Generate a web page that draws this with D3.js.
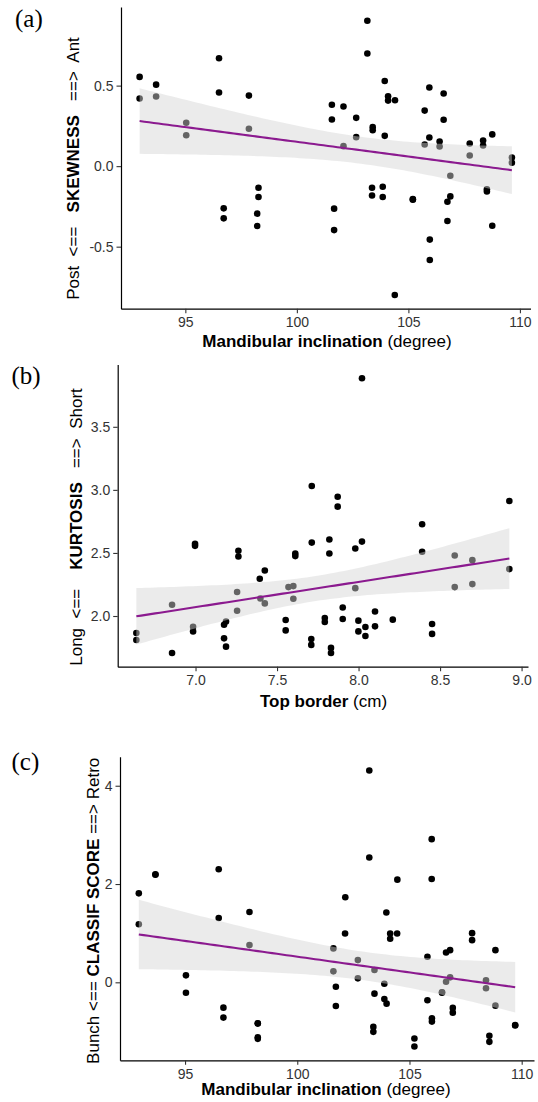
<!DOCTYPE html>
<html><head><meta charset="utf-8">
<script src="https://cdn.jsdelivr.net/npm/d3@7"></script>
<style>
body{margin:0;background:#fff}
svg{display:block}
</style>
</head><body>
<svg id="chart" width="538" height="1102"></svg>
<script>
// ---------- data ----------
// (a) Mandibular inclination vs SKEWNESS
const skewX = [92.95,92.95,93.69,93.69,95.04,95.04,96.51,96.51,97.85,97.85,
  103.16,103.16,101.57,101.57,102.09,102.09,102.66,102.66,103.4,103.4,
  103.94,103.94,104.09,104.09,104.40,105.94,105.73,105.73,105.94,106.58,
  106.58,106.4,106.4,106.88,107.75,107.75,108.35,108.35,108.76,109.64,
  109.64,96.72,96.72,98.28,98.28,98.22,98.22,101.67,101.67,103.37,
  103.37,103.85,103.85,105.2,106.88,106.75,106.75,105.96,105.96,104.39,
  108.52,108.52,108.76,105.2];
const skewY = [0.554,0.42,0.506,0.432,0.269,0.192,0.67,0.457,0.438,0.232,
  0.903,0.699,0.381,0.29,0.37,0.124,0.30,0.18,0.242,0.223,
  0.529,0.188,0.434,0.407,0.409,0.488,0.345,0.134,0.178,0.451,
  0.288,0.153,0.122,-0.06,0.141,0.066,0.159,0.128,0.197,0.054,
  0.021,-0.262,-0.324,-0.134,-0.192,-0.295,-0.372,-0.264,-0.397,-0.134,
  -0.182,-0.128,-0.192,-0.208,-0.188,-0.221,-0.341,-0.456,-0.583,-0.80,
  -0.144,-0.157,-0.37,-0.205];

// (b) Top border vs KURTOSIS
const kurtX = [8.021,7.713,7.872,7.872,8.925,8.39,7.713,7.821,7.821,8.021,
  7.98,7.612,7.612,8.39,8.59,8.698,8.925,8.59,8.698,7.98,
  7.425,7.394,7.57,7.60,7.60,7.425,7.903,7.903,8.101,8.101,
  8.21,7.999,7.999,8.042,8.042,7.793,7.793,7.553,7.553,7.71,
  7.71,7.831,7.831,8.451,8.451,6.637,6.637,6.856,6.856,6.997,
  6.997,6.985,6.985,7.263,7.263,7.255,7.255,7.175,7.187,7.175,
  7.187,7.398];
const kurtY = [3.885,3.031,2.946,2.867,2.912,2.728,2.582,2.606,2.495,2.59,
  2.535,2.495,2.475,2.509,2.48,2.443,2.372,2.229,2.253,2.221,
  2.361,2.295,2.229,2.237,2.137,2.1,2.068,1.976,2.036,1.918,
  1.971,1.963,1.878,1.913,1.842,1.984,1.953,1.968,1.886,1.818,
  1.771,1.747,1.707,1.937,1.858,1.865,1.81,2.089,1.707,2.572,
  2.556,1.915,1.878,2.517,2.472,2.19,2.042,1.931,1.957,1.823,
  1.757,2.139];

// (c) Mandibular inclination vs CLASSIF SCORE
const classX = [92.94,92.94,93.68,96.5,96.5,97.87,97.87,95.04,95.04,96.71,
  96.71,98.24,98.24,98.24,103.21,105.99,103.21,104.46,105.99,102.14,
  103.97,102.13,104.14,104.14,104.45,107.79,107.79,108.83,106.81,106.63,
  105.8,101.61,101.61,102.7,102.7,103.44,103.88,101.72,101.72,103.44,
  103.88,103.98,103.39,103.39,105.22,105.22,105.8,106.0,106.0,106.45,
  106.63,106.81,106.93,106.93,108.41,108.41,108.83,108.56,108.56,109.71,
  93.68,109.71,106.45,98.24];
const classY = [1.81,1.183,2.197,2.30,1.31,1.43,0.757,0.142,-0.211,-0.515,
  -0.718,-0.832,-1.12,-1.15,4.31,2.913,2.541,2.089,2.101,1.73,
  1.42,0.994,0.994,0.885,0.994,1.0,0.858,0.655,0.655,0.608,
  0.519,0.69,0.223,0.452,0.081,0.25,-0.028,-0.089,-0.481,-0.231,
  -0.339,-0.434,-0.907,-1.008,-1.144,-1.306,-0.365,-0.73,-0.799,-0.203,
  0.012,0.101,-0.521,-0.617,0.041,-0.122,-0.475,-1.089,-1.211,-0.88,
  2.19,-0.87,-0.21,-0.84];

// tick values
const skewXTicks = [95,100,105,110];
const skewYTicks = [-0.5,0,0.5];
const kurtXTicks = [7.0,7.5,8.0,8.5,9.0];
const kurtYTicks = [2.0,2.5,3.0,3.5];
const classXTicks = [95,100,105,110];
const classYTicks = [0,2,4];

// ---------- helpers ----------
const SANS = '"Liberation Sans",Arial,Helvetica,sans-serif';
const SERIF = '"Liberation Serif","Times New Roman",Times,serif';

function tQuant(df){
  const z = 1.959964;
  return z + (z**3 + z)/(4*df) + (5*z**5 + 16*z**3 + 3*z)/(96*df*df);
}
function lmFit(xs, ys, nGrid){
  const n = xs.length;
  const mx = d3.mean(xs), my = d3.mean(ys);
  let sxx=0, sxy=0;
  for(let i=0;i<n;i++){ sxx += (xs[i]-mx)**2; sxy += (xs[i]-mx)*(ys[i]-my); }
  const b = sxy/sxx, a = my - b*mx;
  let sse = 0;
  for(let i=0;i<n;i++){ sse += (ys[i]-a-b*xs[i])**2; }
  const s = Math.sqrt(sse/(n-2)), t = tQuant(n-2);
  const [x0,x1] = d3.extent(xs);
  return d3.range(nGrid).map(i=>{
    const x = x0 + (x1-x0)*i/(nGrid-1);
    const yh = a + b*x;
    const se = s*Math.sqrt(1/n + (x-mx)**2/sxx);
    return {x, y:yh, lo:yh - t*se, hi:yh + t*se};
  });
}
function expand(ext){ const r = ext[1]-ext[0]; return [ext[0]-0.05*r, ext[1]+0.05*r]; }

const svg = d3.select("#chart");
const fmt1 = d => d.toFixed(1);
const fmt0 = d => String(d);

const panels = [
  {label:"(a)", lab:{x:15, y:26.5}, xs:skewX, ys:skewY, xTicks:skewXTicks, yTicks:skewYTicks,
   xFmt:fmt0, yFmt:fmt1, rect:{l:121, r:530.5, t:7, b:308.7},
   xTitle:{bold:"Mandibular inclination", plain:" (degree)", cx:327, y:346.7},
   yTitle:{pre:"Post  <==   ", bold:"SKEWNESS", post:"   ==>  Ant", x:78.8, cy:168.5}},
  {label:"(b)", lab:{x:11.5, y:383.5}, xs:kurtX, ys:kurtY, xTicks:kurtXTicks, yTicks:kurtYTicks,
   xFmt:fmt1, yFmt:fmt1, rect:{l:117.7, r:528, t:364.5, b:666.7},
   xTitle:{bold:"Top border", plain:" (cm)", cx:323.5, y:706.7},
   yTitle:{pre:"Long  <==    ", bold:"KURTOSIS", post:"   ==>  Short", x:81.6, cy:527}},
  {label:"(c)", lab:{x:11.5, y:770}, xs:classX, ys:classY, xTicks:classXTicks, yTicks:classYTicks,
   xFmt:fmt0, yFmt:fmt0, rect:{l:120, r:534, t:756.7, b:1060.3},
   xTitle:{bold:"Mandibular inclination", plain:" (degree)", cx:326, y:1095},
   yTitle:{pre:"Bunch <== ", bold:"CLASSIF SCORE", post:" ==> Retro", x:99.3, cy:910.8}}
];

panels.forEach(p=>{
  const R = p.rect;
  const x = d3.scaleLinear().domain(expand(d3.extent(p.xs))).range([R.l, R.r]);
  const y = d3.scaleLinear().domain(expand(d3.extent(p.ys))).range([R.b, R.t]);
  const g = svg.append("g");

  // points
  g.append("g").selectAll("circle").data(p.xs.map((v,i)=>[v,p.ys[i]])).join("circle")
    .attr("cx", d=>x(d[0])).attr("cy", d=>y(d[1])).attr("r", 3.3).attr("fill", "#000");

  // smooth (lm with 95% CI), drawn over the points as in ggplot
  const fit = lmFit(p.xs, p.ys, 80);
  g.append("path").datum(fit)
    .attr("d", d3.area().x(d=>x(d.x)).y0(d=>y(d.lo)).y1(d=>y(d.hi)))
    .attr("fill", "rgb(213,213,213)").attr("fill-opacity", 0.47);
  g.append("path").datum(fit)
    .attr("d", d3.line().x(d=>x(d.x)).y(d=>y(d.y)))
    .attr("fill", "none").attr("stroke", "#8B1A8F").attr("stroke-width", 2.1);

  // axes
  const ax = g.append("g").attr("transform", `translate(0,${R.b})`)
    .call(d3.axisBottom(x).tickValues(p.xTicks).tickFormat(p.xFmt).tickSizeInner(4.5).tickSizeOuter(0).tickPadding(4));
  const ay = g.append("g").attr("transform", `translate(${R.l},0)`)
    .call(d3.axisLeft(y).tickValues(p.yTicks).tickFormat(p.yFmt).tickSizeInner(4.5).tickSizeOuter(0).tickPadding(3));
  [ax, ay].forEach(a=>{
    a.select(".domain").attr("stroke", "#000").attr("stroke-width", 1.2);
    a.selectAll(".tick line").attr("stroke", "#333").attr("stroke-width", 1.1);
    a.selectAll(".tick text").attr("fill", "#333").style("font-size", "14px")
      .style("font-family", SANS);
  });
  ax.selectAll(".tick text").attr("dy", null).attr("y", 18.6);

  // x title
  const xt = g.append("text").attr("x", p.xTitle.cx).attr("y", p.xTitle.y)
    .attr("text-anchor", "middle").style("font-size", "17px").style("font-family", SANS).attr("fill", "#000");
  xt.append("tspan").attr("font-weight", "bold").text(p.xTitle.bold);
  xt.append("tspan").text(p.xTitle.plain);

  // y title
  const yt = g.append("text")
    .attr("transform", `translate(${p.yTitle.x},${p.yTitle.cy}) rotate(-90)`)
    .attr("text-anchor", "middle").style("font-size", "17px").style("font-family", SANS)
    .attr("fill", "#000").style("white-space", "pre");
  yt.append("tspan").text(p.yTitle.pre);
  yt.append("tspan").attr("font-weight", "bold").text(p.yTitle.bold);
  yt.append("tspan").text(p.yTitle.post);

  // panel label
  g.append("text").attr("x", p.lab.x).attr("y", p.lab.y)
    .style("font-family", SERIF).style("font-size", "25px").attr("fill", "#000").text(p.label);
});
</script>
</body></html>
